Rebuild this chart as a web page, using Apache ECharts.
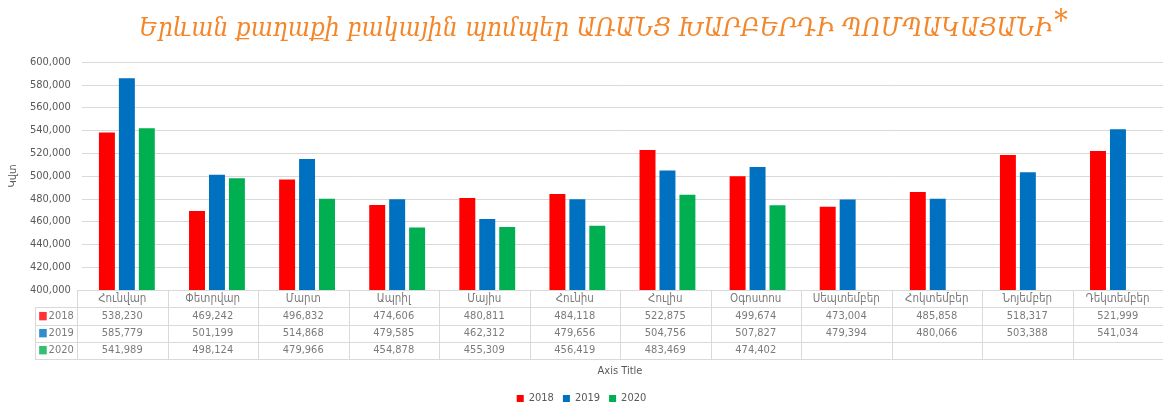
<!DOCTYPE html>
<html><head><meta charset="utf-8">
<script src="https://cdn.jsdelivr.net/npm/echarts@6/dist/echarts.min.js"></script>
<style>html,body{margin:0;padding:0;background:#fff}#c{width:1163px;height:407px}</style>
</head><body><div id="c"></div>
<script>
const months = ['Հունվար','Փետրվար','Մարտ','Ապրիլ','Մայիս','Հունիս','Հուլիս','Օգոստոս','Սեպտեմբեր','Հոկտեմբեր','Նոյեմբեր','Դեկտեմբեր'];
const years = ['2018','2019','2020'];
const v2018 = [538230,469242,496832,474606,480811,484118,522875,499674,473004,485858,518317,521999];
const v2019 = [585779,501199,514868,479585,462312,479656,504756,507827,479394,480066,503388,541034];
const v2020 = [541989,498124,479966,454878,455309,456419,483469,474402,null,null,null,null];
const yTicks = {min:400000, max:600000, step:20000};
const colors = ['#FF0000','#0070C0','#00B050'];
const allVals = [v2018, v2019, v2020];

const fmt = v => v.toLocaleString('en-US');
const FONT = 'DejaVu Sans Condensed, DejaVu Sans, sans-serif';
const gridLine = '#d9d9d9';
const txt = '#595959';

const cellData = [];
months.forEach((m,i)=>cellData.push({value:[i,0], label:{formatter:m, fontSize:11.5}}));
allVals.forEach((arr,r)=>arr.forEach((v,i)=>{ if(v!=null) cellData.push({value:[i,r+1], label:{formatter:fmt(v)}}); }));
const rowHdrData = years.map((y,r)=>({value:[0,r], label:{formatter:'{s'+r+'|■}{t|'+y+'}'}}));

const chart = echarts.init(document.getElementById('c'));
chart.setOption({
  animation:false,
  color: colors,
  title:{
    text:'Երևան քաղաքի բակային պոմպեր ԱՌԱՆՑ ԽԱՐԲԵՐԴԻ ՊՈՄՊԱԿԱՅԱՆԻ{a|*}',
    left:134, top:2,
    textStyle:{color:'#F4862A', fontSize:26, fontStyle:'italic', fontWeight:'normal', fontFamily:'DejaVu Serif Condensed, DejaVu Serif, serif',
      rich:{a:{fontSize:30, color:'#F4862A', verticalAlign:'top', padding:[0,0,14,2]}}}
  },
  legend:{
    bottom:-2, left:'center', icon:'rect', itemWidth:7, itemHeight:7, itemGap:9,
    textStyle:{color:txt, fontSize:11, fontFamily:FONT},
    data:years
  },
  grid:[
    {left:77, width:1090, top:62, bottom:117},
    {left:77, width:1090, top:290, height:69},
    {left:35, width:42, top:307.25, height:51.75}
  ],
  xAxis:[
    {gridIndex:0, type:'category', data:months, axisLabel:{show:false}, axisTick:{show:false}, axisLine:{lineStyle:{color:gridLine}}},
    {gridIndex:1, type:'value', min:-0.5, max:11.5, axisLabel:{show:false}, axisTick:{show:false}, axisLine:{show:false}, splitLine:{show:false},
      name:'Axis Title', nameLocation:'middle', nameGap:7, nameTextStyle:{color:txt, fontSize:11, fontFamily:FONT}},
    {gridIndex:2, type:'value', min:-0.5, max:0.5, show:false}
  ],
  yAxis:[
    {gridIndex:0, type:'value', min:yTicks.min, max:yTicks.max, interval:yTicks.step,
      name:'Կվտ', nameLocation:'middle', nameGap:60, nameRotate:90, nameTextStyle:{color:txt, fontSize:11, fontFamily:FONT},
      axisLabel:{color:txt, fontSize:11, fontFamily:FONT, formatter:v=>fmt(v), margin:11},
      axisLine:{show:false}, axisTick:{show:false}, splitLine:{lineStyle:{color:gridLine}}},
    {gridIndex:1, type:'value', inverse:true, min:-0.5, max:3.5, show:false},
    {gridIndex:2, type:'value', inverse:true, min:-0.5, max:2.5, show:false}
  ],
  graphic:[],
  series:[
    ...years.map((y,k)=>({
      name:y, type:'bar', xAxisIndex:0, yAxisIndex:0, data:allVals[k],
      barGap:'25%', barCategoryGap:'38%',
      itemStyle:{color:colors[k]}
    })),
    {type:'scatter', xAxisIndex:1, yAxisIndex:1, symbolSize:0, data:cellData, silent:true,
      label:{show:true, position:'inside', color:txt, fontSize:11, fontFamily:FONT}},
    {type:'scatter', xAxisIndex:2, yAxisIndex:2, symbolSize:0, data:rowHdrData, silent:true,
      label:{show:true, position:'inside', color:txt, fontSize:11, fontFamily:FONT,
        rich:{s0:{color:colors[0], fontSize:11}, s1:{color:colors[1], fontSize:11}, s2:{color:colors[2], fontSize:11}, t:{color:txt, fontSize:11, fontFamily:FONT, padding:[0,0,0,1]}}}}
  ]
});

function drawTable(){
  const g = [];
  const ln = (x1,y1,x2,y2)=>g.push({type:'line', shape:{x1,y1,x2,y2}, style:{stroke:gridLine, lineWidth:1}, silent:true});
  const p = (xi,yi,x,y)=>chart.convertToPixel({xAxisIndex:xi, yAxisIndex:yi},[x,y]);
  const top = p(1,1,-0.5,-0.5), bot = p(1,1,11.5,3.5);
  for(let i=0;i<=12;i++){ const x = Math.round(p(1,1,i-0.5,0)[0])+0.5; ln(x, top[1], x, bot[1]); }
  for(let r=0;r<=4;r++){ const y = Math.round(p(1,1,0,r-0.5)[1])+0.5; ln(top[0], y, bot[0], y); }
  const a = p(2,2,-0.5,-0.5), b = p(2,2,0.5,2.5);
  for(let r=0;r<=3;r++){ const y = Math.round(p(2,2,0,r-0.5)[1])+0.5; ln(a[0], y, b[0], y); }
  ln(Math.round(a[0])+0.5, a[1], Math.round(a[0])+0.5, b[1]);
  chart.setOption({graphic:g});
}
drawTable();
</script></body></html>
